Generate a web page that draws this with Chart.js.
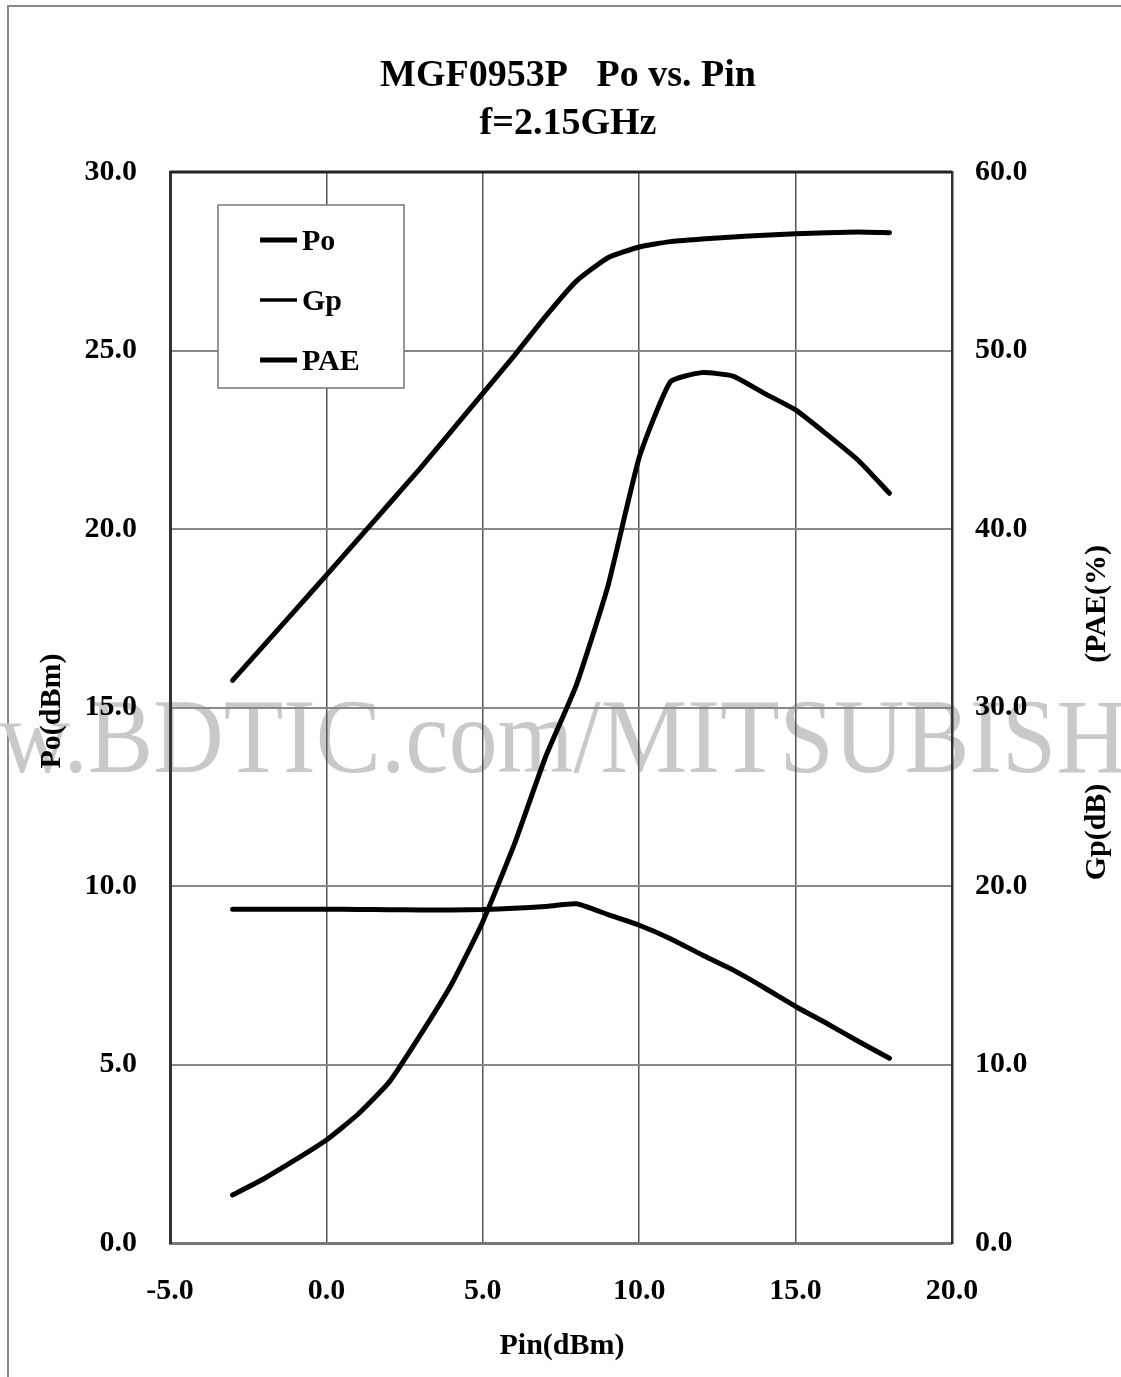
<!DOCTYPE html>
<html lang="en">
<head>
  <meta charset="UTF-8">
  <title>MGF0953P Po vs. Pin</title>
  <style>
    body {
      margin: 0;
      padding: 0;
      background-color: #fff;
    }
    canvas {
      display: block;
    }
  </style>
</head>
<body>
  <canvas id="poChart" width="1121" height="1377"></canvas>
  <script src="https://cdn.jsdelivr.net/npm/chart.js"></script>
  <script>
    // values, one point per dBm of input power
    const pin = [-3, -2, -1, 0, 1, 2, 3, 4, 5, 6, 7, 8, 9, 10, 11, 12, 13, 14, 15, 16, 17, 18];
    const po = [15.76, 16.74, 17.72, 18.71, 19.7, 20.7, 21.7, 22.75, 23.8, 24.85, 25.95, 26.95,
      27.6, 27.9, 28.05, 28.12, 28.18, 28.23, 28.27, 28.3, 28.32, 28.3];
    const gp = [18.7, 18.7, 18.7, 18.7, 18.69, 18.67, 18.66, 18.66, 18.68, 18.75, 18.85, 19.0,
      18.4, 17.8, 17.05, 16.15, 15.3, 14.3, 13.25, 12.3, 11.3, 10.35];
    const pae = [2.69, 3.6, 4.65, 5.77, 7.2, 9.0, 11.65, 14.5, 18.0, 22.3, 27.2, 31.3,
      36.8, 44.0, 48.25, 48.76, 48.57, 47.6, 46.67, 45.3, 43.85, 42.0];
    const leftTicks = [0, 5, 10, 15, 20, 25, 30];
    const rightTicks = [0, 10, 20, 30, 40, 50, 60];
    const xTicks = [-5, 0, 5, 10, 15, 20];

    const serif = '"Liberation Serif", "Times New Roman", serif';

    function pts(ys) {
      return pin.map((x, i) => ({ x: x, y: ys[i] }));
    }

    const decor = {
      id: 'decor',
      beforeDraw(chart) {
        const ctx = chart.ctx;
        ctx.save();
        ctx.fillStyle = '#fff';
        ctx.fillRect(0, 0, chart.width, chart.height);
        // page frame of the scanned sheet
        ctx.strokeStyle = '#8a8a8a';
        ctx.lineWidth = 2;
        ctx.beginPath();
        ctx.moveTo(8, chart.height);
        ctx.lineTo(8, 6);
        ctx.lineTo(chart.width, 6);
        ctx.stroke();
        // watermark, slightly condensed like the scan
        ctx.font = '105px ' + serif;
        ctx.fillStyle = '#c9c9c9';
        ctx.textBaseline = 'alphabetic';
        ctx.textAlign = 'left';
        ctx.translate(88, 772);
        ctx.scale(0.93, 1);
        const pre = ctx.measureText('www.').width;
        ctx.fillText('www.BDTIC.com/MITSUBISHI', -pre, 0);
        ctx.restore();
      },
      beforeDatasetsDraw(chart) {
        const ctx = chart.ctx;
        const a = chart.chartArea;
        ctx.save();
        ctx.strokeStyle = '#222';
        ctx.lineWidth = 3;
        ctx.beginPath();
        ctx.moveTo(a.left, a.top);
        ctx.lineTo(a.right, a.top);
        ctx.stroke();
        ctx.restore();
      },
      afterDraw(chart) {
        const ctx = chart.ctx;
        ctx.save();
        ctx.fillStyle = '#000';
        ctx.textAlign = 'center';
        ctx.textBaseline = 'alphabetic';
        ctx.font = 'bold 38px ' + serif;
        ctx.fillText('MGF0953P   Po vs. Pin', 568, 86);
        ctx.fillText('f=2.15GHz', 568, 134);

        ctx.font = 'bold 30px ' + serif;
        ctx.textBaseline = 'middle';
        ctx.fillText('Pin(dBm)', 562, 1346);
        ctx.save();
        ctx.translate(52, 711);
        ctx.rotate(-Math.PI / 2);
        ctx.fillText('Po(dBm)', 0, 0);
        ctx.restore();
        ctx.save();
        ctx.translate(1097, 604);
        ctx.rotate(-Math.PI / 2);
        ctx.fillText('(PAE(%)', 0, 0);
        ctx.restore();
        ctx.save();
        ctx.translate(1097, 832);
        ctx.rotate(-Math.PI / 2);
        ctx.fillText('Gp(dB)', 0, 0);
        ctx.restore();

        // legend box
        ctx.fillStyle = '#fff';
        ctx.fillRect(218, 205, 186, 183);
        ctx.strokeStyle = '#777';
        ctx.lineWidth = 1.5;
        ctx.strokeRect(218, 205, 186, 183);
        const rowY = [240, 300, 360];
        const sampleW = [5, 3.5, 5];
        chart.data.datasets.forEach((ds, i) => {
          ctx.strokeStyle = ds.borderColor;
          ctx.lineWidth = sampleW[i];
          ctx.beginPath();
          ctx.moveTo(260, rowY[i]);
          ctx.lineTo(297, rowY[i]);
          ctx.stroke();
          ctx.fillStyle = '#000';
          ctx.textAlign = 'left';
          ctx.fillText(ds.label, 302, rowY[i] + 2);
        });
        ctx.restore();
      }
    };

    const tickFont = { family: serif, size: 30, weight: 'bold' };

    new Chart(document.getElementById('poChart'), {
      type: 'line',
      data: {
        datasets: [
          { label: 'Po', data: pts(po), yAxisID: 'y', borderColor: '#000', borderWidth: 5 },
          { label: 'Gp', data: pts(gp), yAxisID: 'y1', borderColor: '#000', borderWidth: 5 },
          { label: 'PAE', data: pts(pae), yAxisID: 'y1', borderColor: '#000', borderWidth: 5 }
        ]
      },
      options: {
        responsive: false,
        animation: false,
        layout: { padding: { top: 172, left: 0, right: 0, bottom: 0 } },
        elements: {
          point: { radius: 0 },
          line: { tension: 0.15, borderCapStyle: 'round', borderJoinStyle: 'round' }
        },
        plugins: {
          legend: { display: false },
          tooltip: { enabled: false }
        },
        scales: {
          x: {
            type: 'linear',
            min: -5,
            max: 20,
            afterFit(s) { s.height = 134; },
            afterBuildTicks(s) { s.ticks = xTicks.map(v => ({ value: v })); },
            ticks: { font: tickFont, color: '#000', padding: 30, maxRotation: 0, callback: v => v.toFixed(1) },
            grid: { color: '#555', lineWidth: 1.5, drawTicks: false },
            border: { color: '#777', width: 3 }
          },
          y: {
            position: 'left',
            min: 0,
            max: 30,
            afterFit(s) { s.width = 170; },
            afterBuildTicks(s) { s.ticks = leftTicks.map(v => ({ value: v })); },
            ticks: { font: tickFont, color: '#000', padding: 33, callback: v => v.toFixed(1) },
            grid: { color: '#888', lineWidth: 2, drawTicks: false },
            border: { color: '#333', width: 3 }
          },
          y1: {
            position: 'right',
            min: 0,
            max: 60,
            afterFit(s) { s.width = 169; },
            afterBuildTicks(s) { s.ticks = rightTicks.map(v => ({ value: v })); },
            ticks: { font: tickFont, color: '#000', padding: 23, callback: v => v.toFixed(1) },
            grid: { display: false, drawTicks: false },
            border: { color: '#333', width: 2.5 }
          }
        }
      },
      plugins: [decor]
    });
  </script>
</body>
</html>
